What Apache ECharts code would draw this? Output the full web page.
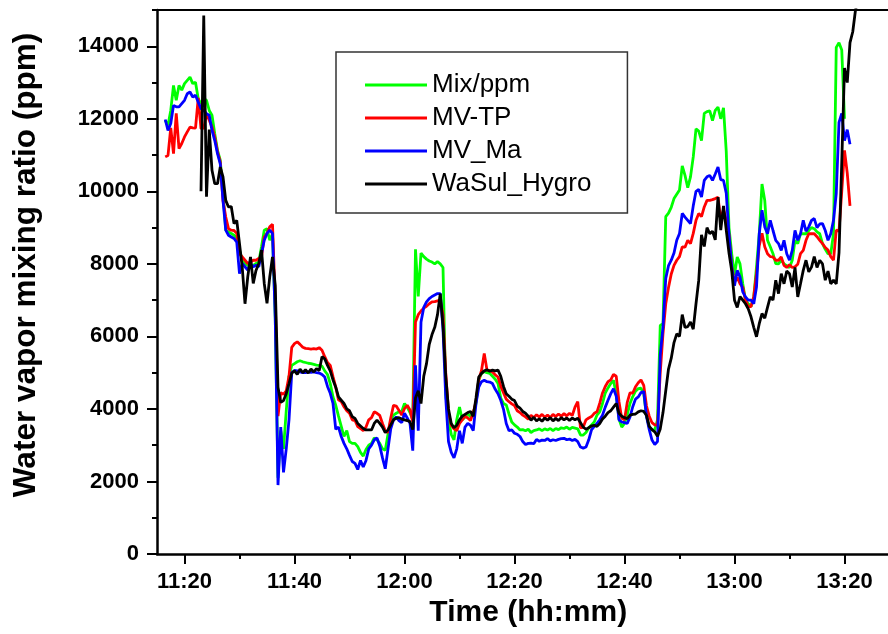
<!DOCTYPE html>
<html>
<head>
<meta charset="utf-8">
<script src="https://cdn.jsdelivr.net/npm/echarts@6/dist/echarts.min.js"></script>
<style>
  html, body { margin: 0; padding: 0; background: #fff; }
  #chart { width: 888px; height: 634px; }
</style>
</head>
<body>
<div id="chart"></div>
<script>
'use strict';

// sampling: minutes after midnight, one value every half minute
const STEP = 0.5;
const START_MAIN = 676.5;   // 11:16.5
const START_HYGRO = 683;    // 11:23

const seriesNames = ['Mix/ppm', 'MV-TP', 'MV_Ma', 'WaSul_Hygro'];

const mixPpm = [
  11950,11820,12230,12920,12510,12920,12790,12970,13060,13150,
  12970,13010,12550,12420,12550,12510,12230,12100,11590,11130,
  10860,9940,8930,8880,8840,8790,8700,8380,8100,8010,
  7960,7950,7960,8010,8050,8470,8930,8970,8650,8830,
  6500,2100,3400,2900,3950,4900,5200,5250,5300,5330,
  5300,5280,5260,5250,5230,5210,5200,5180,5050,4950,
  4700,4330,4100,3800,3520,3240,3400,3100,3050,3050,
  2960,2800,2700,2880,3000,3050,3200,3150,3050,2900,
  2860,3300,3680,3830,3880,3920,3930,4150,4050,3900,
  3700,8400,7100,8300,8200,8130,8080,8050,8000,8060,
  8000,7900,4400,3700,3300,3150,3700,4050,3700,3780,
  3880,3780,3900,4150,4800,4980,5030,5000,4980,4900,
  4820,4700,4300,4150,4110,3860,3640,3560,3500,3420,
  3430,3400,3440,3350,3400,3420,3450,3400,3450,3420,
  3460,3400,3460,3430,3480,3460,3500,3440,3490,3470,
  3450,3280,3280,3350,3480,3560,3640,3830,3920,4150,
  4440,4580,4700,4790,4400,3720,3500,3600,3850,4150,
  4340,4490,4560,4570,4420,3800,3500,3420,3420,3700,
  6300,6350,9300,9400,9560,9800,9920,10040,10700,10440,
  10100,10400,10950,11720,11660,11400,12150,12200,12220,11950,
  12230,12320,12000,12300,11100,9000,8270,7700,8190,8000,
  7450,7000,6900,6820,7080,7920,8830,10200,9750,8650,
  8470,8280,8010,8000,8100,8000,7950,7900,8100,8650,
  8560,8830,8830,8830,8920,9000,8970,8880,8830,8560,
  8400,8280,8280,8830,13970,14100,13900,12000
];

const mvTp = [
  10950,10990,11750,11040,12150,11180,11320,11500,11640,11770,
  11750,11740,12580,11730,11740,12140,11960,11770,11500,11090,
  10810,9750,9290,8970,8930,8920,8840,8280,8190,8100,
  8010,8050,8100,8100,8150,8190,8740,8840,9020,9090,
  7000,3800,4450,4400,4500,4900,5700,5800,5850,5780,
  5700,5670,5660,5650,5660,5650,5690,5620,5440,5280,
  5200,4890,4600,4250,4200,4060,3950,3880,3700,3680,
  3510,3460,3400,3500,3700,3760,3920,3880,3820,3600,
  3400,3350,3750,4100,4080,3960,3830,4010,4100,3970,
  3650,6400,6600,6700,6780,6830,6900,6950,6960,6980,
  7000,6600,5000,3900,3550,3450,3400,3600,3700,3800,
  3750,3680,3900,4200,4800,5060,5530,5070,5060,5020,
  4940,4880,4630,4450,4270,4200,4140,4090,3950,3900,
  3830,3780,3720,3820,3760,3840,3780,3850,3770,3830,
  3760,3850,3790,3860,3800,3870,3810,3880,3820,4050,
  4200,3480,3500,3700,3750,3790,3880,3920,4160,4440,
  4620,4750,4800,4950,4900,4200,3740,3700,4180,4440,
  4440,4610,4720,4800,4650,4080,3800,3620,3560,3550,
  5000,6080,6900,7350,7720,7960,8100,8200,8470,8460,
  8650,8560,8840,9200,9390,9300,9570,9750,9750,9770,
  9800,9840,9200,9500,9200,8800,7920,7500,7630,7450,
  7360,7000,6820,6820,7100,7730,8500,8840,8470,8280,
  8200,8190,8100,8100,8190,7960,7900,7980,7900,7920,
  7990,8280,8370,8650,8830,8830,8830,8750,8650,8560,
  8450,8380,8200,8100,8930,8900,10000,11130,10500,9600
];

const mvMa = [
  11980,11680,11870,12370,12330,12330,12420,12510,12690,12740,
  12600,12650,12460,12280,12230,12140,12100,11680,11400,11040,
  10760,9750,8930,8790,8740,8700,8600,7730,8010,7920,
  7830,8010,7920,7960,7920,8280,8650,8840,8930,8840,
  6500,1900,3500,2250,2900,3700,5000,5060,5050,5020,
  5000,5000,5020,5010,5020,5000,4990,4950,4880,4620,
  4430,4150,3440,3500,3240,3050,2900,2720,2550,2500,
  2330,2580,2400,2580,2900,3000,3150,3200,2980,2650,
  2350,2900,3450,3700,3780,3680,3620,3880,3750,3600,
  2850,5200,3400,6400,6800,6950,7040,7100,7140,7180,
  7180,6200,4300,3100,2800,2650,2900,3400,3050,3500,
  3600,3550,3400,4150,4600,4750,4790,4750,4740,4700,
  4540,4420,4240,3990,3600,3400,3420,3330,3300,3240,
  3100,3020,3050,3060,3040,3160,3110,3140,3130,3180,
  3120,3150,3130,3160,3180,3190,3150,3170,3130,3160,
  3100,2950,2920,2950,3150,3420,3520,3600,3700,3830,
  4050,4240,4420,4560,4350,3700,3640,3620,3600,3780,
  4060,4270,4330,4450,4480,3790,3430,3140,3020,3100,
  5500,6260,7600,7950,8100,8300,8650,8840,9390,9290,
  9200,9110,9600,10000,10050,9840,10300,10400,10440,10300,
  10480,10670,10320,10300,9950,8800,7900,7400,7820,7640,
  7230,7090,7000,7000,6900,7360,8830,9480,9020,8830,
  9200,8920,8650,8560,8370,8650,8280,8100,8370,8920,
  8650,8830,9200,8900,9020,9200,9250,9000,9100,9110,
  8920,8650,8830,9200,9940,11900,12150,11400,11700,11300
];

const waSulHygro = [
  10000,14850,9850,11700,10580,10210,10210,10670,10400,9750,
  9570,9580,9110,9200,8560,7900,6900,7640,8190,7460,
  7820,8010,8380,7460,6910,7640,8190,7400,4600,4180,
  4230,4420,4700,4990,5050,4950,5100,5000,5080,4990,
  5100,5020,5110,5060,5440,5380,5200,5050,4800,4600,
  4330,4240,4150,4000,3950,3790,3740,3600,3530,3460,
  3420,3420,3420,3600,3690,3600,3500,3350,3420,3560,
  3700,3740,3760,3720,3700,3680,3650,3430,4300,4500,
  4150,4900,5250,5780,6050,6250,6600,7180,6300,4900,
  4000,3600,3480,3550,3700,3800,3850,3900,3930,3800,
  4300,4880,4980,5050,5080,5040,5070,5050,5070,4900,
  4620,4420,4350,4270,4230,4080,4020,3930,3880,3800,
  3690,3770,3670,3730,3660,3750,3690,3760,3670,3740,
  3680,3760,3700,3750,3680,3750,3700,3740,3620,3500,
  3440,3480,3530,3550,3520,3600,3720,3800,3900,3950,
  4050,4150,3880,3800,3760,3730,3830,3850,3860,3920,
  3950,3930,3820,3520,3430,3370,3250,3450,3900,4500,
  5100,5400,5830,6070,6000,6600,6250,6270,6400,6200,
  6900,7550,8800,8480,9000,8830,8900,8660,9840,8930,
  9600,8930,8300,7800,7000,6800,7100,7000,6900,6760,
  6540,6250,5990,6350,6630,6500,6800,7090,7000,7550,
  7180,7730,7450,7800,7730,7360,7900,7090,7450,7820,
  8100,7780,7910,8200,7900,8100,8000,7550,7800,7450,
  7550,7450,8300,10800,13400,13000,14100,14400,15000,15300
];

const xMajorTicks = [680, 700, 720, 740, 760, 780, 800];
const xMinorTicks = [690, 710, 730, 750, 770, 790, 810];
const yMajorTicks = [0, 2000, 4000, 6000, 8000, 10000, 12000, 14000];
const yMinorTicks = [1000, 3000, 5000, 7000, 9000, 11000, 13000, 15000];

const colors = ['#00ff00', '#ff0000', '#0000ff', '#000000'];
const FONT = 'Liberation Sans, Arial, sans-serif';

function pairs(values, start) {
  return values.map((v, i) => [start + i * STEP, v]);
}

function hhmm(v) {
  const h = Math.floor(v / 60);
  const m = Math.round(v - h * 60);
  return h + ':' + (m < 10 ? '0' + m : m);
}

const chart = echarts.init(document.getElementById('chart'), null, {renderer: 'canvas'});

const axisLineStyle = {color: '#000', width: 2.5};
const tickStyle = {color: '#000', width: 2};

chart.setOption({
  animation: false,
  backgroundColor: '#fff',
  textStyle: {fontFamily: FONT},
  grid: {left: 157, top: 10, right: -11.5, bottom: 80, outerBoundsMode: 'none'},
  legend: {
    orient: 'vertical',
    left: 336,
    top: 52,
    padding: [20, 36, 16, 29],
    itemGap: 7,
    itemWidth: 62,
    itemHeight: 3,
    icon: 'rect',
    borderColor: '#333',
    borderWidth: 1.5,
    backgroundColor: '#fff',
    textStyle: {fontSize: 26, lineHeight: 26, color: '#000', fontFamily: FONT},
    data: seriesNames
  },
  xAxis: [
    {
      type: 'value', min: 675, max: 810, position: 'bottom',
      axisLine: {lineStyle: axisLineStyle},
      axisTick: {customValues: xMajorTicks, length: 10, lineStyle: tickStyle},
      axisLabel: {
        customValues: xMajorTicks, formatter: hhmm, margin: 17,
        fontSize: 22, fontWeight: 'bold', color: '#000', fontFamily: FONT
      },
      splitLine: {show: false},
      name: 'Time (hh:mm)', nameLocation: 'middle', nameGap: 44,
      nameTextStyle: {fontSize: 30, fontWeight: 'bold', color: '#000', fontFamily: FONT}
    },
    {
      type: 'value', min: 675, max: 810, position: 'bottom',
      axisLine: {show: false},
      axisTick: {customValues: xMinorTicks, length: 5, lineStyle: tickStyle},
      axisLabel: {show: false},
      splitLine: {show: false}
    },
    {
      type: 'value', min: 675, max: 810, position: 'top',
      axisLine: {lineStyle: {color: '#000', width: 2}},
      axisTick: {show: false},
      axisLabel: {show: false},
      splitLine: {show: false}
    }
  ],
  yAxis: [
    {
      type: 'value', min: 0, max: 15000, position: 'left',
      axisLine: {show: true, lineStyle: axisLineStyle},
      axisTick: {show: true, customValues: yMajorTicks, length: 10, lineStyle: tickStyle},
      axisLabel: {
        customValues: yMajorTicks, formatter: v => String(v), margin: 18,
        fontSize: 22, fontWeight: 'bold', color: '#000', fontFamily: FONT
      },
      splitLine: {show: false}
    },
    {
      type: 'value', min: 0, max: 15000, position: 'left',
      axisLine: {show: false},
      axisTick: {show: true, customValues: yMinorTicks, length: 5, lineStyle: tickStyle},
      axisLabel: {show: false},
      splitLine: {show: false}
    }
  ],
  graphic: [{
    type: 'text',
    x: 26,
    y: 265,
    rotation: Math.PI / 2,
    style: {
      text: 'Water vapor mixing ratio (ppm)',
      fontSize: 31.5, fontWeight: 'bold', fontFamily: FONT,
      fill: '#000', align: 'center', verticalAlign: 'middle'
    }
  }],
  series: [
    [mixPpm, START_MAIN],
    [mvTp, START_MAIN],
    [mvMa, START_MAIN],
    [waSulHygro, START_HYGRO]
  ].map(([values, start], i) => ({
    name: seriesNames[i],
    type: 'line',
    xAxisIndex: 0,
    yAxisIndex: 0,
    data: pairs(values, start),
    symbol: 'none',
    showSymbol: false,
    color: colors[i],
    lineStyle: {width: 2.8, color: colors[i]},
    z: 2 + i
  }))
});
</script>
</body>
</html>
